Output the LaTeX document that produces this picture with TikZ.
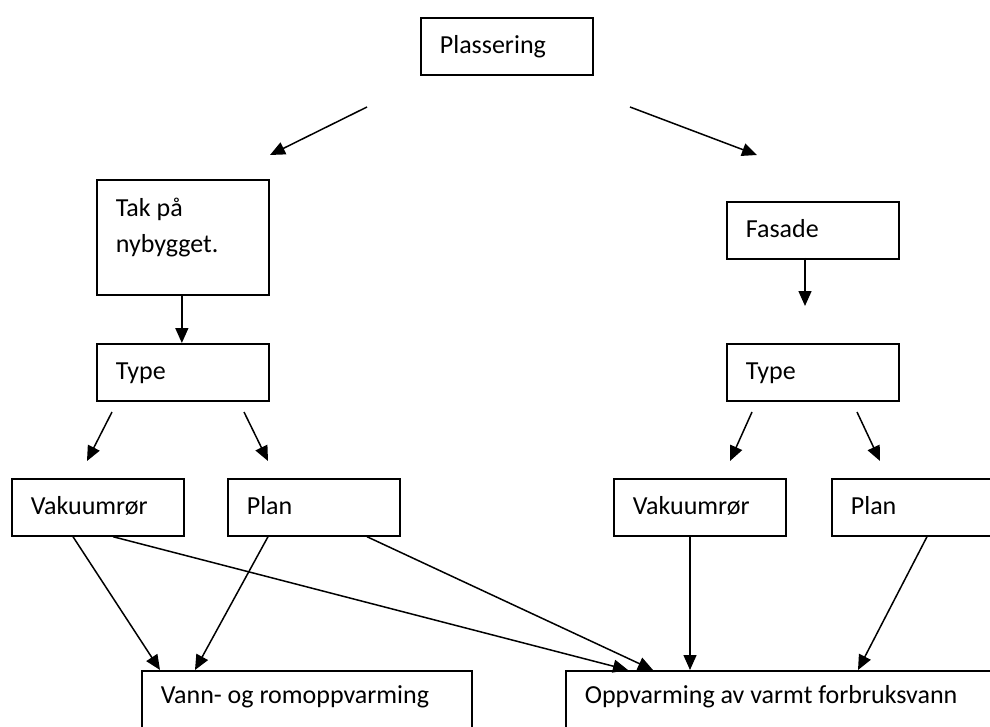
\documentclass[tikz,border=0pt]{standalone}
\usepackage{fontspec}
\setmainfont{Carlito}
\usepackage{tikz}
\usetikzlibrary{positioning, arrows.meta, calc}

\tikzset{
  box/.style={draw, line width=1.7pt, rectangle, anchor=north west,
    minimum width=172pt, minimum height=57pt, inner xsep=19pt, inner ysep=0pt,
    text width=134pt, text height=21pt, text depth=7pt,
    align=flush left, font=\fontsize{26}{36}\selectfont},
  bigbox/.style={box, minimum height=0pt, text height=33pt, text depth=60pt},
  arr/.style={-{Triangle[length=15pt,width=13pt]}, line width=1.5pt}
}

\begin{document}
\begin{tikzpicture}[x=1pt, y=-1pt]
  \useasboundingbox (0,0) rectangle (990,727);

  \node[box] (plassering) at (420,17) {Plassering};

  \node[box, minimum height=115pt, text height=19pt, text depth=60pt] (tak) at (96,179) {Tak på\\nybygget.};
  \node[box] (typeL) at (96,343) {Type};
  \node[box] (vakL) at (11,478) {Vakuumrør};
  \node[box] (planL) at (227,478) {Plan};

  \node[box] (fasade) at (726,201) {Fasade};
  \node[box] (typeR) at (726,343) {Type};
  \node[box] (vakR) at (613,478) {Vakuumrør};
  \node[box] (planR) at (831,478) {Plan};

  \node[bigbox, minimum width=330pt, text width=292pt] (romvarme) at (141,670) {Vann- og romoppvarming};
  \node[bigbox, minimum width=460pt, text width=422pt] (tappevann) at (565,670) {Oppvarming av varmt forbruksvann};

  % loose arrow ends
  \coordinate (p1) at (367,107);  \coordinate (p2) at (270,155);
  \coordinate (p3) at (630,107);  \coordinate (p4) at (757,155);
  \coordinate (f0) at (805,258);  \coordinate (f1) at (805,306);
  \coordinate (tl1) at (112,412); \coordinate (tl2) at (87,461);
  \coordinate (tl3) at (244,412); \coordinate (tl4) at (268,461);
  \coordinate (tr1) at (752,412); \coordinate (tr2) at (730,461);
  \coordinate (tr3) at (857,412); \coordinate (tr4) at (880,461);

  \draw[arr] (p1) -- (p2);
  \draw[arr] (p3) -- (p4);
  \draw[arr] ($(tak.south)+(-1,0)$) -- ($(typeL.north)+(-1,0)$);
  \draw[arr] (f0) -- (f1);
  \draw[arr] (tl1) -- (tl2);
  \draw[arr] (tl3) -- (tl4);
  \draw[arr] (tr1) -- (tr2);
  \draw[arr] (tr3) -- (tr4);

  \draw[arr] ($(vakL.south west)+(62,0)$) -- ($(romvarme.north west)+(19,0)$);
  \draw[arr] ($(vakL.south west)+(102,0)$) -- ($(tappevann.north west)+(63,0)$);
  \draw[arr] ($(planL.south west)+(41,0)$) -- ($(romvarme.north west)+(54,0)$);
  \draw[arr] ($(planL.south west)+(140,0)$) -- ($(tappevann.north west)+(88,0)$);
  \draw[arr] ($(vakR.south west)+(77,0)$) -- ($(tappevann.north west)+(125,0)$);
  \draw[arr] ($(planR.south west)+(96,0)$) -- ($(tappevann.north west)+(293,0)$);
\end{tikzpicture}
\end{document}
